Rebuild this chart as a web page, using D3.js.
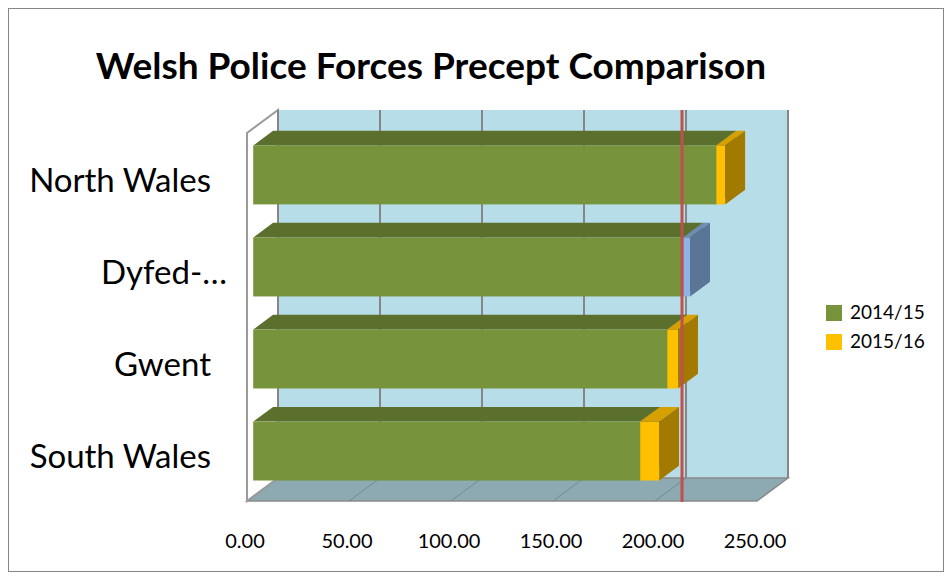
<!DOCTYPE html>
<html>
<head>
<meta charset="utf-8">
<script src="https://d3js.org/d3.v7.min.js"></script>
<style>
    body { margin: 0; background: #fff; }
    text { font-family: Lato, "Liberation Sans", sans-serif; fill: #000; }
</style>
</head>
<body>
<script>
"use strict";
// values
const categories = ["North Wales", "Dyfed-\u2026", "Gwent", "South Wales"]
const precept2014 = [227.0, 210.8, 203.0, 189.7]
const precept2015 = [4.4, 3.4, 5.3, 9.3]
const seriesNames = ["2014/15", "2015/16"]
const tickValues = [0, 50, 100, 150, 200, 250]
const referenceValue = 210.2

;(function(){
    const measurements = { width: 952, height: 580 }
    // back wall of the 3d plot, and the oblique offset from back wall to front of the floor
    const wall = { left: 278, right: 788, top: 110, bottom: 478 }
    const depth = { dx: -31, dy: 23 }
    const barFront = 0.8, barBack = 0.16

    const colors = {
        green: { front: "#77933C", top: "#5C702E", side: "#4F6228" },
        yellow: { front: "#FFC000", top: "#D6A000", side: "#A37A00" },
        blue: { front: "#8EB4E3", top: "#6E8DB6", side: "#5B7597" }
    }

    const svg = d3.select("body").append("svg")
        .attr("width", measurements.width)
        .attr("height", measurements.height)

    // outer frame
    svg.append("rect")
        .attr("x", 8.5).attr("y", 8.5)
        .attr("width", 935).attr("height", 563)
        .attr("fill", "#fff")
        .attr("stroke", "#868686")

    const xBack = d3.scaleLinear().domain([0, 250]).range([wall.left, wall.right])
    const xAt = (v, d) => xBack(v) + d * depth.dx
    const floorFront = wall.bottom + depth.dy

    const yBand = d3.scaleBand()
        .domain(categories)
        .range([128, 498])
        .paddingInner(0.36)
        .paddingOuter(0.19)

    // back wall
    svg.append("rect")
        .attr("x", wall.left).attr("y", wall.top)
        .attr("width", wall.right - wall.left)
        .attr("height", wall.bottom - wall.top)
        .attr("fill", "#B7DEE8")

    // floor
    const floorPts = [[xAt(0, 0), wall.bottom], [xAt(250, 0), wall.bottom],
                      [xAt(250, 1), floorFront], [xAt(0, 1), floorFront]]
    svg.append("polygon")
        .attr("points", floorPts.join(" "))
        .attr("fill", "#8DA9B1")
        .attr("stroke", "#8A8A8A")
        .attr("stroke-width", 1.5)

    // left side wall
    const sidePts = [[xAt(0, 0), wall.top], [xAt(0, 0), wall.bottom],
                     [xAt(0, 1), floorFront], [xAt(0, 1), wall.top + depth.dy]]
    svg.append("polygon")
        .attr("points", sidePts.join(" "))
        .attr("fill", "#fff")
        .attr("stroke", "#9A9A9A")
        .attr("stroke-width", 2)

    // gridlines on the back wall
    svg.selectAll(".grid")
        .data(tickValues)
        .enter()
        .append("line")
            .attr("class", "grid")
            .attr("x1", d => xBack(d)).attr("x2", d => xBack(d))
            .attr("y1", wall.top).attr("y2", wall.bottom)
            .attr("stroke", "#868686")
            .attr("stroke-width", 2)

    // gridlines on the floor
    svg.selectAll(".floorgrid")
        .data(tickValues.slice(1, -1))
        .enter()
        .append("line")
            .attr("class", "floorgrid")
            .attr("x1", d => xAt(d, 0)).attr("y1", wall.bottom)
            .attr("x2", d => xAt(d, 1)).attr("y2", floorFront)
            .attr("stroke", "#6F8A92")
            .attr("stroke-width", 1)

    // stacked 3d bars
    const ox = (barBack - barFront) * depth.dx
    const oy = (barBack - barFront) * depth.dy
    const xBar = v => xAt(v, barFront)

    function drawBox(g, v0, v1, y0, y1, c) {
        const a = xBar(v0), b = xBar(v1)
        g.append("polygon")
            .attr("points", [[a, y0], [b, y0], [b + ox, y0 + oy], [a + ox, y0 + oy]].join(" "))
            .attr("fill", c.top)
        g.append("rect")
            .attr("x", a).attr("y", y0)
            .attr("width", b - a).attr("height", y1 - y0)
            .attr("fill", c.front)
        g.append("polygon")
            .attr("points", [[b, y0], [b + ox, y0 + oy], [b + ox, y1 + oy], [b, y1]].join(" "))
            .attr("fill", c.side)
    }

    categories.forEach((cat, i) => {
        const g = svg.append("g").attr("class", "bar")
        const y0 = yBand(cat), y1 = y0 + yBand.bandwidth()
        const top = precept2014[i] + precept2015[i]
        drawBox(g, 0, precept2014[i], y0, y1, colors.green)
        // Dyfed's 2015/16 point is coloured blue in the original
        drawBox(g, precept2014[i], top, y0, y1, i === 1 ? colors.blue : colors.yellow)
    })

    // red reference line
    svg.append("line")
        .attr("x1", xBar(referenceValue)).attr("x2", xBar(referenceValue))
        .attr("y1", wall.top).attr("y2", floorFront + 1)
        .attr("stroke", "#C0504D")
        .attr("stroke-width", 3)

    // value labels under the floor
    svg.selectAll(".tick")
        .data(tickValues)
        .enter()
        .append("text")
            .attr("class", "tick")
            .attr("x", d => xAt(d, 1) - 2)
            .attr("y", 548)
            .attr("text-anchor", "middle")
            .attr("font-size", 20)
            .text(d => d3.format(".2f")(d))

    // category labels
    svg.selectAll(".cat")
        .data(categories)
        .enter()
        .append("text")
            .attr("class", "cat")
            .attr("x", 211)
            .attr("dx", (d, i) => i === 1 ? 16 : 0)
            .attr("y", d => yBand(d) + yBand.bandwidth() / 2 + 17)
            .attr("text-anchor", "end")
            .attr("font-size", 33)
            .text(d => d)

    // title
    svg.append("text")
        .attr("x", 431)
        .attr("y", 79)
        .attr("text-anchor", "middle")
        .attr("font-size", 37)
        .attr("font-weight", "bold")
        .text("Welsh Police Forces Precept Comparison")

    // legend
    const legend = svg.selectAll(".legend")
        .data(seriesNames)
        .enter()
        .append("g")
            .attr("class", "legend")
            .attr("transform", (d, i) => "translate(826," + (305 + i * 29) + ")")
    legend.append("rect")
        .attr("width", 16).attr("height", 16)
        .attr("fill", (d, i) => i === 0 ? colors.green.front : colors.yellow.front)
    legend.append("text")
        .attr("x", 24).attr("y", 14)
        .attr("font-size", 19)
        .text(d => d)
})()
</script>
</body>
</html>
